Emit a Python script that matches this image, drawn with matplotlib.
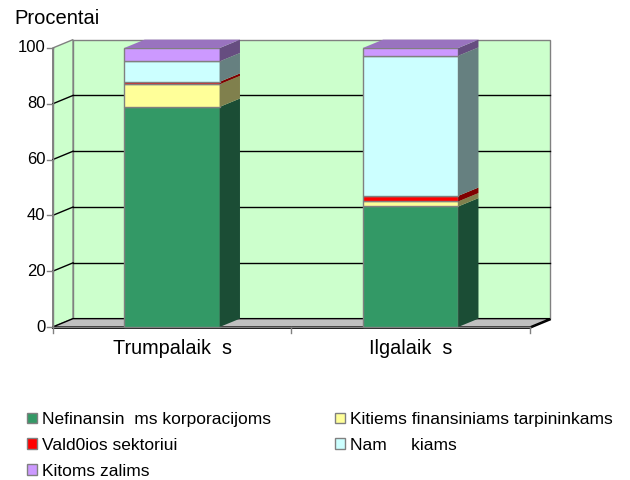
import numpy as np
import matplotlib.pyplot as plt
from matplotlib.patches import Polygon

# data (percent)
categories = ["Trumpalaik  s", "Ilgalaik  s"]
series_names = ["Nefinansin  ms korporacijoms", "Kitiems finansiniams tarpininkams",
                "Vald0ios sektoriui", "Nam     kiams", "Kitoms zalims"]
nefinansinems = [78.9, 43.2]
kitiems_fin = [8.1, 1.8]
valdzios = [0.9, 2.0]
namu_ukiams = [7.3, 50.2]
kitoms = [4.8, 2.8]
y_ticks = [0, 20, 40, 60, 80, 100]

front_colors = ['#339966', '#FFFF99', '#FF0000', '#CCFFFF', '#CC99FF']
side_colors = ['#1B4D35', '#80804D', '#800000', '#668080', '#664D80']
top_color = '#9973BF'
wall_color = '#CCFFCC'
edge_gray = '#808080'

plt.rcParams['font.family'] = ['Liberation Sans', 'DejaVu Sans']

fig = plt.figure(figsize=(6.3, 4.8), dpi=100)
ax = fig.add_axes([0, 0, 1, 1])
# x: 238.5 px per category, y: 2.79 px per percent
ax.set_xlim(-172 / 238.5, (630 - 172) / 238.5)
ax.set_ylim(-153 / 2.79, 327 / 2.79)
ax.axis('off')

x = np.arange(len(categories))
width = 0.4
dx, dy = 0.085, 3.0   # depth offset
x_lo, x_hi = -0.5, len(categories) - 0.5
y_max = y_ticks[-1]

# back wall
ax.add_patch(Polygon([(x_lo + dx, dy), (x_hi + dx, dy), (x_hi + dx, y_max + dy), (x_lo + dx, y_max + dy)],
                     closed=True, facecolor=wall_color, edgecolor=edge_gray, lw=1, zorder=1))
# left wall
ax.add_patch(Polygon([(x_lo, 0), (x_lo + dx, dy), (x_lo + dx, y_max + dy), (x_lo, y_max)],
                     closed=True, facecolor=wall_color, edgecolor=edge_gray, lw=1, zorder=1))
# gridlines on back wall + left wall
for t in y_ticks[1:-1]:
    ax.plot([x_lo + dx, x_hi + dx], [t + dy, t + dy], color='black', lw=1, zorder=2)
    ax.plot([x_lo, x_lo + dx], [t, t + dy], color='black', lw=1, zorder=2)
# floor
ax.add_patch(Polygon([(x_lo, 0), (x_hi, 0), (x_hi + dx, dy), (x_lo + dx, dy)],
                     closed=True, facecolor='#C0C0C0', edgecolor='black', lw=1, zorder=2))
ax.plot([x_lo, x_hi, x_hi + dx], [-0.4, -0.4, dy - 0.4], color='black', lw=1.2, zorder=2)

# y ticks
for t in y_ticks:
    ax.plot([x_lo - 0.025, x_lo], [t, t], color=edge_gray, lw=1, zorder=3)
    ax.text(x_lo - 0.03, t, str(t), ha='right', va='center', fontsize=12)
ax.plot([x_lo, x_lo], [0, y_max], color=edge_gray, lw=1, zorder=3)
# x ticks
ax.plot([x_lo, x_hi], [0, 0], color=edge_gray, lw=1, zorder=3)
for b in np.arange(x_lo, x_hi + 0.01, 1.0):
    ax.plot([b, b], [0, -2], color=edge_gray, lw=1, zorder=3)
for xi, c in zip(x, categories):
    ax.text(xi, -9.7, c, ha='center', va='baseline', fontsize=14.3)
ax.text(x_lo - 0.16, 110.6, "Procentai", ha='left', va='center', fontsize=14.5)

# stacked bars with 3d side faces
series = [nefinansinems, kitiems_fin, valdzios, namu_ukiams, kitoms]
bottom = np.zeros(len(categories))
handles = []
for vals, fc, sc in zip(series, front_colors, side_colors):
    vals = np.array(vals)
    bars = ax.bar(x, vals, width, bottom=bottom, color=fc, edgecolor=edge_gray, lw=1, zorder=4)
    handles.append(bars)
    for xi, b, v in zip(x, bottom, vals):
        xr = xi + width / 2
        ax.add_patch(Polygon([(xr, b), (xr + dx, b + dy), (xr + dx, b + v + dy), (xr, b + v)],
                             closed=True, facecolor=sc, edgecolor='none', zorder=4))
    bottom = bottom + vals
for xi, top in zip(x, bottom):
    xl, xr = xi - width / 2, xi + width / 2
    ax.add_patch(Polygon([(xl, top), (xr, top), (xr + dx, top + dy), (xl + dx, top + dy)],
                         closed=True, facecolor=top_color, edgecolor='none', zorder=4))

order = [0, 2, 4, 1, 3]
leg = fig.legend([handles[i] for i in order], [series_names[i] for i in order],
                 loc='upper left', bbox_to_anchor=(27 / 630, 1 - 412 / 480), ncol=2,
                 frameon=False, fontsize=12.5, borderpad=0, borderaxespad=0,
                 handlelength=0.55, handleheight=0.55, handletextpad=0.3,
                 labelspacing=0.62, columnspacing=3.7)

fig.savefig('out.png', dpi=100)
